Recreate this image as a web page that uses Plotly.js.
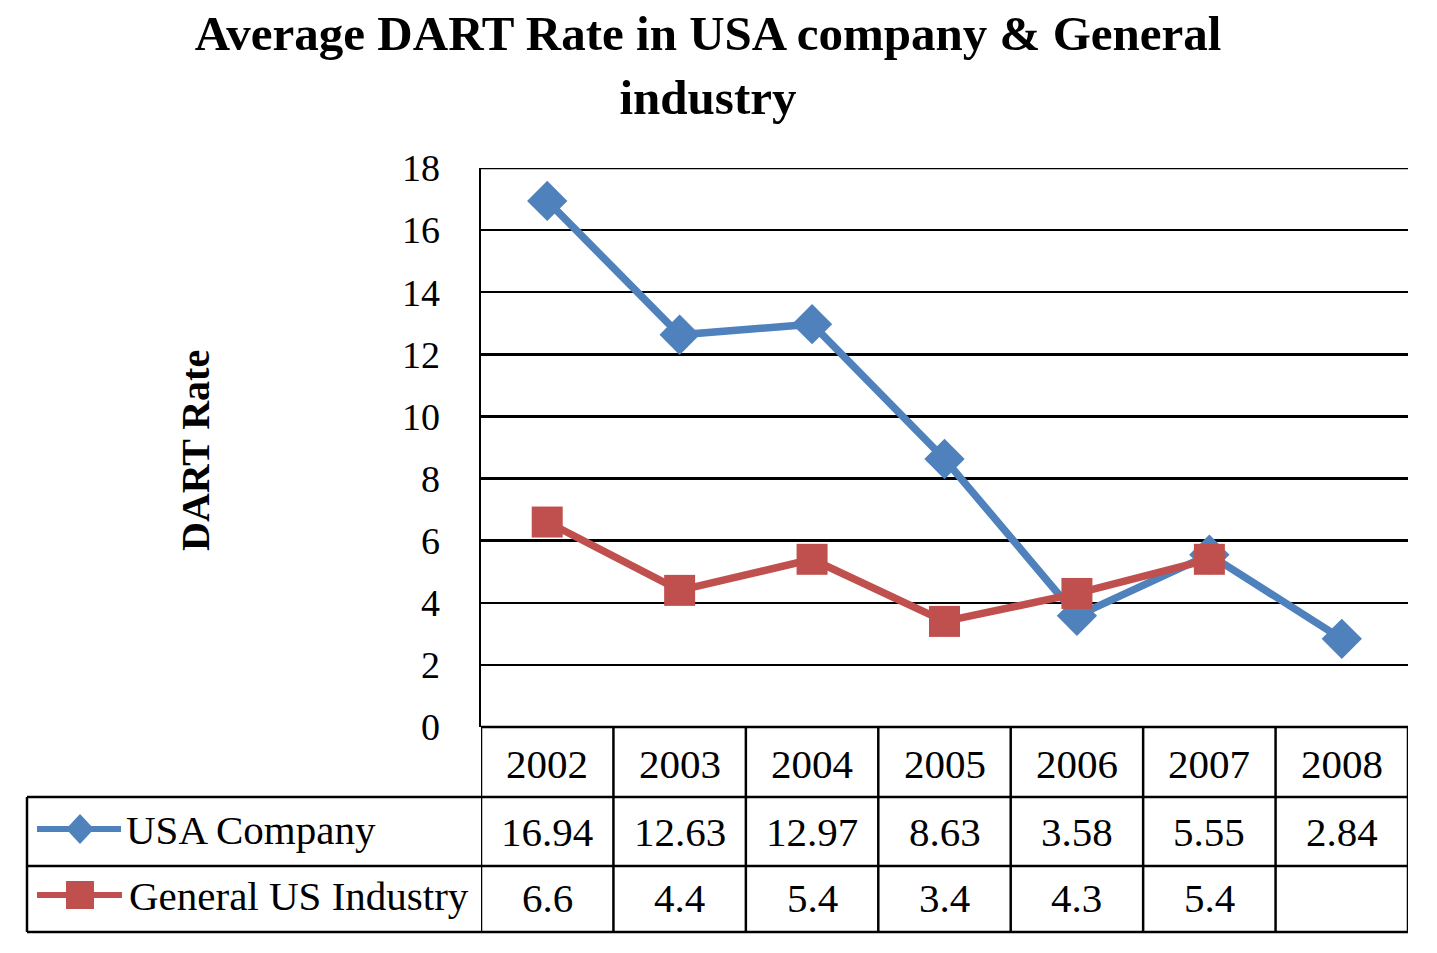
<!DOCTYPE html>
<html>
<head>
<meta charset="utf-8">
<script src="https://cdn.plot.ly/plotly-3.0.1.min.js"></script>
<style>html,body{margin:0;padding:0;background:#fff;}#chart{width:1437px;height:953px;}</style>
</head>
<body>
<div id="chart"></div>
<script>
const years = ['2002','2003','2004','2005','2006','2007','2008'];
const usaCompany = [16.94, 12.63, 12.97, 8.63, 3.58, 5.55, 2.84];
const generalIndustry = [6.6, 4.4, 5.4, 3.4, 4.3, 5.4, null];
const seriesNames = ['USA Company', 'General US Industry'];
const yTicks = [0, 2, 4, 6, 8, 10, 12, 14, 16, 18];

const W = 1437, H = 953;
const L = 481, R = 1408, T = 168, B = 727;
const FONT = 'Liberation Serif, Times New Roman, serif';
const BLUE = '#4F81BD', RED = '#C0504D';
const py = p => (B - p) / (B - T);
const px = p => (p - L) / (R - L);

const traces = [
  {x: years, y: usaCompany, name: seriesNames[0], type: 'scatter', mode: 'lines+markers',
   line: {color: BLUE, width: 7.5}, marker: {symbol: 'diamond', size: 31, color: BLUE}, showlegend: false},
  {x: years, y: generalIndustry, name: seriesNames[1], type: 'scatter', mode: 'lines+markers',
   line: {color: RED, width: 7.5}, marker: {symbol: 'square', size: 31, color: RED}, showlegend: false}
];

const shapes = [];
const annotations = [];
const lineStyle = {color: '#000', width: 2.5};
// top gridline at max tick
shapes.push({type: 'line', xref: 'paper', yref: 'y', x0: 0, x1: 1,
  y0: yTicks[yTicks.length - 1], y1: yTicks[yTicks.length - 1], line: lineStyle, layer: 'below'});
// table horizontal lines
[B, 797, 866, 932].forEach((yy, i) => {
  shapes.push({type: 'line', xref: 'paper', yref: 'paper',
    x0: i === 0 ? 0 : px(27), x1: 1, y0: py(yy), y1: py(yy), line: lineStyle});
});
// vertical lines at category boundaries
for (let i = 0; i <= years.length; i++) {
  shapes.push({type: 'line', xref: 'x', yref: 'paper', x0: i - 0.5, x1: i - 0.5,
    y0: py(B), y1: py(932), line: lineStyle});
}
shapes.push({type: 'line', xref: 'paper', yref: 'paper', x0: px(27), x1: px(27),
  y0: py(797), y1: py(932), line: lineStyle});

// legend keys
shapes.push({type: 'line', xref: 'paper', yref: 'paper', x0: px(37), x1: px(121),
  y0: py(829), y1: py(829), line: {color: BLUE, width: 6}});
shapes.push({type: 'path', xref: 'paper', yref: 'paper', fillcolor: BLUE, line: {width: 0},
  path: `M ${px(80)} ${py(814)} L ${px(94)} ${py(829)} L ${px(80)} ${py(844)} L ${px(66)} ${py(829)} Z`});
shapes.push({type: 'line', xref: 'paper', yref: 'paper', x0: px(37), x1: px(122),
  y0: py(895), y1: py(895), line: {color: RED, width: 6}});
shapes.push({type: 'rect', xref: 'paper', yref: 'paper', fillcolor: RED, line: {width: 0},
  x0: px(66), x1: px(94), y0: py(881), y1: py(909)});

const cellFont = {family: FONT, size: 41, color: '#000'};
years.forEach((yr, i) => {
  annotations.push({x: i, xref: 'x', y: py(764), yref: 'paper', text: yr, showarrow: false,
    font: cellFont, xanchor: 'center', yanchor: 'middle'});
  annotations.push({x: i, xref: 'x', y: py(832), yref: 'paper', text: String(usaCompany[i]), showarrow: false,
    font: cellFont, xanchor: 'center', yanchor: 'middle'});
  if (generalIndustry[i] !== null) {
    annotations.push({x: i, xref: 'x', y: py(898), yref: 'paper', text: String(generalIndustry[i]), showarrow: false,
      font: cellFont, xanchor: 'center', yanchor: 'middle'});
  }
});
annotations.push({x: px(124), xref: 'paper', y: py(830), yref: 'paper', text: seriesNames[0], showarrow: false,
  font: cellFont, xanchor: 'left', yanchor: 'middle'});
annotations.push({x: px(127), xref: 'paper', y: py(896), yref: 'paper', text: seriesNames[1], showarrow: false,
  font: cellFont, xanchor: 'left', yanchor: 'middle'});
// y axis title
annotations.push({x: px(195), xref: 'paper', y: py(451), yref: 'paper', text: '<b>DART Rate</b>', showarrow: false,
  textangle: -90, font: {family: FONT, size: 40, color: '#000'}, xanchor: 'center', yanchor: 'middle'});

const layout = {
  width: W, height: H,
  margin: {l: L, r: W - R, t: T, b: H - B, pad: 0},
  paper_bgcolor: '#fff', plot_bgcolor: '#fff',
  title: {text: '<b>Average DART Rate in USA company &amp; General<br>industry</b>',
    font: {family: FONT, size: 49, color: '#000'}, x: 708 / W, xanchor: 'center', y: 1 - 50 / H, yanchor: 'middle'},
  xaxis: {type: 'category', categoryorder: 'array', categoryarray: years, range: [-0.5, years.length - 0.5],
    showticklabels: false, showgrid: false, zeroline: false, showline: false, ticks: ''},
  yaxis: {range: [0, 18], tickvals: yTicks, ticktext: yTicks.map(String), showgrid: true, gridcolor: '#000', gridwidth: 2.5,
    zeroline: false, showline: true, linecolor: '#000', linewidth: 2.5, ticks: '',
    ticklabelstandoff: 31, tickfont: {family: FONT, size: 38, color: '#000'}},
  shapes: shapes,
  annotations: annotations,
  showlegend: false
};

Plotly.newPlot('chart', traces, layout, {staticPlot: true, displayModeBar: false});
</script>
</body>
</html>
